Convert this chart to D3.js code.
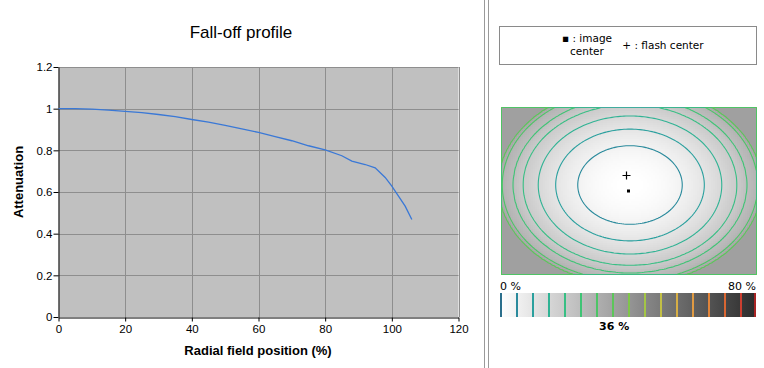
<!DOCTYPE html>
<html><head><meta charset="utf-8">
<script src="https://cdn.jsdelivr.net/npm/d3@7"></script>
<style>html,body{margin:0;padding:0;background:#fff;}svg{display:block;}</style>
</head><body>
<script>
// ---- data ----
const positions   = [0, 5, 10, 15, 20, 25, 30, 35, 40, 45, 50, 55, 60, 65, 70, 75, 80, 85, 88, 92, 95, 98, 100, 102, 104, 106];
const attenuation = [1.0, 1.0, 0.998, 0.993, 0.987, 0.981, 0.972, 0.962, 0.948, 0.935, 0.92, 0.903, 0.886, 0.866, 0.846, 0.822, 0.802, 0.774, 0.748, 0.732, 0.716, 0.67, 0.628, 0.58, 0.532, 0.468];
const xTicks = [0, 20, 40, 60, 80, 100, 120];
const yTicks = [0, 0.2, 0.4, 0.6, 0.8, 1, 1.2];
const barLevels = [0,5,10,15,20,25,30,35,40,45,50,55,60,65,70,75,80];
const barColors = ["#2b6f8c","#2a8a9c","#2aa09e","#30b394","#38bf84","#3fc475","#4cc566","#5cc65a","#7fc64a","#a3c545","#c2bf45","#d6ae45","#e09a42","#e0843a","#d96632","#cc3f30","#a82424"];
const maxFalloff = 36;
const markerLabel = "36 %";
const legendItems = ["▪ : image", "center", "+ : flash center"];

const W = 764, H = 368;
const svg = d3.select("body").append("svg").attr("width", W).attr("height", H)
  .style("font-family", "'Liberation Sans', Arial, sans-serif");

// ---- left chart ----
const x = d3.scaleLinear().domain([0, 120]).range([58.5, 458.5]);
const y = d3.scaleLinear().domain([0, 1.2]).range([317, 67]);

svg.append("rect").attr("x", x(0)).attr("y", y(1.2)).attr("width", x(120) - x(0)).attr("height", y(0) - y(1.2))
  .attr("fill", "#c0c0c0");

const grid = svg.append("g").attr("stroke", "#8e8e8e").attr("stroke-width", 1);
xTicks.slice(1).forEach(t => grid.append("line").attr("x1", Math.round(x(t)) + 0.5).attr("x2", Math.round(x(t)) + 0.5).attr("y1", y(1.2)).attr("y2", y(0)));
yTicks.slice(1).forEach(t => grid.append("line").attr("x1", x(0)).attr("x2", x(120)).attr("y1", Math.round(y(t)) + 0.5).attr("y2", Math.round(y(t)) + 0.5));

const xAxis = svg.append("g").attr("transform", `translate(0,${y(0) + 0.5})`)
  .call(d3.axisBottom(x).tickValues(xTicks).tickSize(4).tickSizeOuter(0).tickFormat(d3.format("d")));
const yAxis = svg.append("g").attr("transform", `translate(${x(0)},0)`)
  .call(d3.axisLeft(y).tickValues(yTicks).tickSize(5).tickSizeOuter(0).tickFormat(d => d3.format("~g")(d)));
[xAxis, yAxis].forEach(a => {
  a.select(".domain").attr("stroke", "#000");
  a.selectAll(".tick line").attr("stroke", "#000");
  a.selectAll(".tick text").attr("fill", "#000").style("font-size", "11.5px").style("font-family", "'Liberation Sans', Arial, sans-serif");
});
xAxis.selectAll(".tick text").attr("dy", "0.95em").attr("y", 5);
yAxis.selectAll(".tick text").attr("x", -6);

const line = d3.line().x((d, i) => x(positions[i])).y(d => y(d));
svg.append("path").datum(attenuation).attr("d", line).attr("fill", "none")
  .attr("stroke", "#3a78d6").attr("stroke-width", 1.3);

svg.append("text").attr("x", 241).attr("y", 38).attr("text-anchor", "middle")
  .style("font-size", "17px").text("Fall-off profile");
svg.append("text").attr("x", 258).attr("y", 355).attr("text-anchor", "middle")
  .style("font-size", "13px").style("font-weight", "bold").text("Radial field position (%)");
svg.append("text").attr("transform", "translate(23,182) rotate(-90)").attr("text-anchor", "middle")
  .style("font-size", "13px").style("font-weight", "bold").text("Attenuation");

// ---- separator ----
svg.append("line").attr("x1", 484.5).attr("x2", 484.5).attr("y1", 0).attr("y2", H).attr("stroke", "#9a9a9a");
svg.append("line").attr("x1", 488.5).attr("x2", 488.5).attr("y1", 0).attr("y2", H).attr("stroke", "#9a9a9a");

// ---- legend box ----
const tf = "'DejaVu Sans', Verdana, sans-serif";
svg.append("rect").attr("x", 499.5).attr("y", 26.5).attr("width", 257).attr("height", 38)
  .attr("fill", "#fff").attr("stroke", "#8a8a8a");
svg.append("text").attr("x", 587).attr("y", 42).attr("text-anchor", "middle").style("font-family", tf).style("font-size", "10.5px").text(legendItems[0]);
svg.append("text").attr("x", 587).attr("y", 55).attr("text-anchor", "middle").style("font-family", tf).style("font-size", "10.5px").text(legendItems[1]);
svg.append("text").attr("x", 663).attr("y", 49).attr("text-anchor", "middle").style("font-family", tf).style("font-size", "10.5px").text(legendItems[2]);

// ---- heat map built from the profile ----
const hm = {x0: 501, y0: 107, w: 256, h: 168, cell: 2};
const nx = hm.w / hm.cell, ny = hm.h / hm.cell;
const profile = d3.scaleLinear().domain(positions).range(attenuation).clamp(true);
const cx = 630, cy = 185, ax = 133, by = 100;
const values = new Array(nx * ny);
for (let j = 0; j < ny; j++) for (let i = 0; i < nx; i++) {
  const px = hm.x0 + (i + 0.5) * hm.cell, py = hm.y0 + (j + 0.5) * hm.cell;
  const r = 100 * Math.hypot((px - cx) / ax, (py - cy) / by);
  values[j * nx + i] = Math.min(maxFalloff, (1 - profile(r)) * 100);
}
const gray = d3.scaleLinear().domain([0, 80]).range(["#ffffff", "#2c2c2c"]).clamp(true);
const hg = svg.append("g");
values.forEach((v, k) => {
  const i = k % nx, j = Math.floor(k / nx);
  hg.append("rect").attr("x", hm.x0 + i * hm.cell).attr("y", hm.y0 + j * hm.cell)
    .attr("width", hm.cell).attr("height", hm.cell).attr("fill", gray(v));
});
const levelColor = d3.scaleOrdinal().domain(barLevels).range(barColors);
const contours = d3.contours().size([nx, ny]).thresholds(barLevels.filter(l => l > 0 && l < maxFalloff))(values);
svg.append("clipPath").attr("id", "hmclip").append("rect").attr("x", hm.x0).attr("y", hm.y0).attr("width", hm.w).attr("height", hm.h);
const proj = d3.geoTransform({point: function(px, py) { this.stream.point(hm.x0 + px * hm.cell, hm.y0 + py * hm.cell); }});
svg.append("g").attr("clip-path", "url(#hmclip)").selectAll("path").data(contours).join("path")
  .attr("d", d3.geoPath(proj)).attr("fill", "none").attr("stroke", d => levelColor(d.value)).attr("stroke-width", 1.1);

// markers
svg.append("path").attr("d", "M622.5,175.5h8M626.5,171.5v8").attr("stroke", "#000").attr("stroke-width", 1.2);
svg.append("rect").attr("x", 627).attr("y", 189.5).attr("width", 3).attr("height", 3).attr("fill", "#000");

// ---- colour bar ----
const bx = d3.scaleLinear().domain([0, 80]).range([500, 756]);
const grad = svg.append("defs").append("linearGradient").attr("id", "barGrad");
barLevels.forEach(l => grad.append("stop").attr("offset", (l / 80 * 100) + "%").attr("stop-color", gray(l)));
svg.append("rect").attr("x", bx(0)).attr("y", 293).attr("width", bx(80) - bx(0)).attr("height", 24).attr("fill", "url(#barGrad)");
svg.append("g").selectAll("line").data(barLevels).join("line")
  .attr("x1", d => Math.min(bx(d) + 1, 755)).attr("x2", d => Math.min(bx(d) + 1, 755))
  .attr("y1", 293).attr("y2", 317).attr("stroke", d => levelColor(d)).attr("stroke-width", 2);
svg.append("text").attr("x", bx(0)).attr("y", 290).style("font-family", tf).style("font-size", "11px").text("0 %");
svg.append("text").attr("x", bx(80)).attr("y", 290).attr("text-anchor", "end").style("font-family", tf).style("font-size", "11px").text("80 %");
svg.append("text").attr("x", bx(maxFalloff) - 1).attr("y", 330).attr("text-anchor", "middle").style("font-family", tf).style("font-size", "11px").style("font-weight", "bold").text(markerLabel);
</script>
</body></html>
